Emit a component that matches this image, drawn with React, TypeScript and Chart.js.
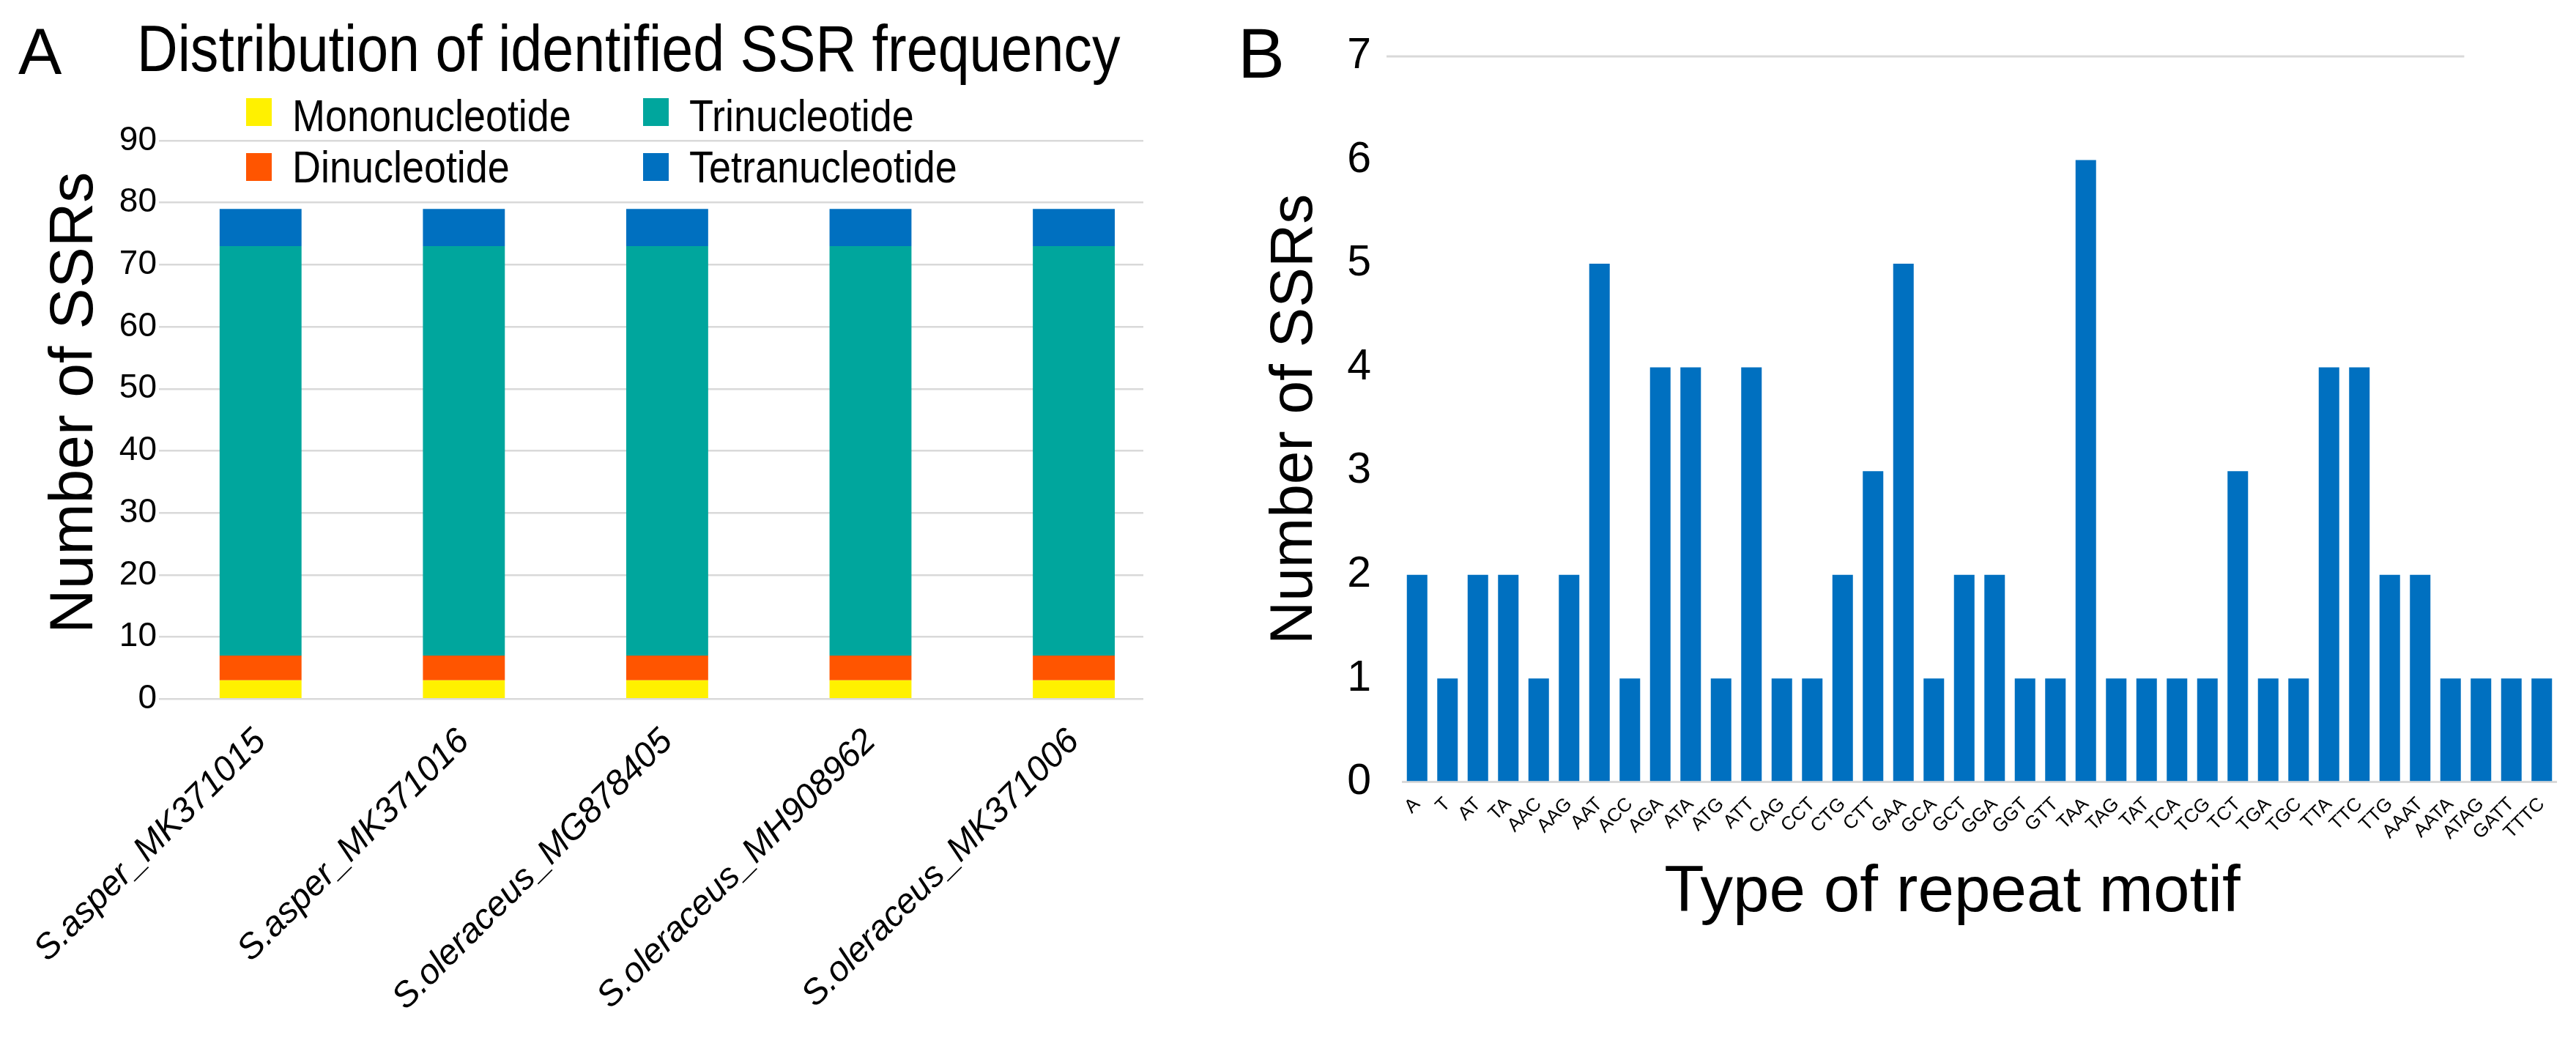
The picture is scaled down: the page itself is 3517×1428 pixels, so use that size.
import React, { useEffect, useRef } from 'react';
import { Chart, registerables } from 'chart.js';

Chart.register(...registerables);

const FONT = "'Liberation Sans', Arial, Helvetica, sans-serif";

// ---------- Panel A data ----------
const genomes = [
  'S.asper_MK371015',
  'S.asper_MK371016',
  'S.oleraceus_MG878405',
  'S.oleraceus_MH908962',
  'S.oleraceus_MK371006',
];
const mononucleotide = [3, 3, 3, 3, 3];
const dinucleotide = [4, 4, 4, 4, 4];
const trinucleotide = [66, 66, 66, 66, 66];
const tetranucleotide = [6, 6, 6, 6, 6];
const seriesNames = ['Mononucleotide', 'Dinucleotide', 'Trinucleotide', 'Tetranucleotide'];
const seriesColors = ['#FFF100', '#FF5500', '#00A69D', '#0070C0'];
const titleA = 'Distribution of identified SSR frequency';

// ---------- Panel B data ----------
const motifs = [
  'A', 'T', 'AT', 'TA', 'AAC', 'AAG', 'AAT', 'ACC', 'AGA', 'ATA', 'ATG', 'ATT',
  'CAG', 'CCT', 'CTG', 'CTT', 'GAA', 'GCA', 'GCT', 'GGA', 'GGT', 'GTT', 'TAA',
  'TAG', 'TAT', 'TCA', 'TCG', 'TCT', 'TGA', 'TGC', 'TTA', 'TTC', 'TTG', 'AAAT',
  'AATA', 'ATAG', 'GATT', 'TTTC',
];
const motifCounts = [
  2, 1, 2, 2, 1, 2, 5, 1, 4, 4, 1, 4,
  1, 1, 2, 3, 5, 1, 2, 2, 1, 1, 6,
  1, 1, 1, 1, 3, 1, 1, 4, 4, 2, 2,
  1, 1, 1, 1,
];
const motifColor = '#0070C0';

const GRID = '#D9D9D9';
const CLEAR = 'rgba(0,0,0,0)';

function drawCondensed(ctx: any, text: string, x: number, y: number, size: number, scaleX: number) {
  ctx.save();
  ctx.font = `${size}px ${FONT}`;
  ctx.fillStyle = '#000';
  ctx.textAlign = 'left';
  ctx.textBaseline = 'alphabetic';
  ctx.translate(x, y);
  ctx.scale(scaleX, 1);
  ctx.fillText(text, 0, 0);
  ctx.restore();
}

// Condensed panel title drawn above the plot, as in the original figure
const condensedTitle = {
  id: 'condensedTitle',
  afterDraw(chart: any, _args: any, opts: any) {
    if (!opts || !opts.display) return;
    drawCondensed(chart.ctx, opts.text, opts.x, opts.baseline, opts.size, opts.scaleX);
  },
};

// Legend laid out in a 2x2 grid (column-major), drawn over the plot like the original
const gridLegend = {
  id: 'gridLegend',
  afterDraw(chart: any, _args: any, opts: any) {
    if (!opts || !opts.display) return;
    const ctx = chart.ctx;
    chart.data.datasets.forEach((ds: any, i: number) => {
      const col = Math.floor(i / opts.boxTops.length);
      const row = i % opts.boxTops.length;
      const x = opts.columns[col];
      ctx.save();
      ctx.fillStyle = ds.backgroundColor;
      ctx.fillRect(x, opts.boxTops[row], opts.boxWidth, opts.boxHeight);
      ctx.restore();
      drawCondensed(ctx, ds.label, x + opts.textOffset, opts.baselines[row], opts.fontSize, opts.scaleX);
    });
  },
};

// The top reference line of panel B stops short of the last bars in the original
const partialGridLine = {
  id: 'partialGridLine',
  beforeDatasetsDraw(chart: any, _args: any, opts: any) {
    if (!opts || !opts.display) return;
    const { ctx, chartArea } = chart;
    const x = chart.scales.x;
    const y = chart.scales.y;
    const py = y.getPixelForValue(opts.value);
    ctx.save();
    ctx.strokeStyle = opts.color;
    ctx.lineWidth = opts.lineWidth;
    ctx.beginPath();
    ctx.moveTo(chartArea.left - opts.leftExtend, py);
    ctx.lineTo(x.getPixelForValue(opts.endAt), py);
    ctx.stroke();
    ctx.restore();
  },
};

export default function App() {
  const refA = useRef<HTMLCanvasElement>(null);
  const refB = useRef<HTMLCanvasElement>(null);

  useEffect(() => {
    const stacks = [mononucleotide, dinucleotide, trinucleotide, tetranucleotide];
    const chartA = new Chart(refA.current as HTMLCanvasElement, {
      type: 'bar',
      data: {
        datasets: stacks.map((vals, k) => ({
          label: seriesNames[k],
          data: vals.map((v, i) => ({ x: i, y: v })),
          backgroundColor: seriesColors[k],
          borderWidth: 0,
          categoryPercentage: 1,
          barPercentage: 0.403,
        })),
      },
      options: {
        responsive: false,
        animation: false,
        devicePixelRatio: 1,
        layout: { padding: { left: 46, right: 167, top: 192, bottom: 15 } },
        plugins: {
          legend: { display: false },
          tooltip: { enabled: false },
          title: { display: false },
          condensedTitle: {
            display: true,
            text: titleA,
            x: 187,
            baseline: 97,
            size: 89,
            scaleX: 0.867,
          },
          gridLegend: {
            display: true,
            columns: [336, 878],
            boxTops: [134, 209],
            baselines: [179, 249],
            boxWidth: 35,
            boxHeight: 38,
            textOffset: 63,
            fontSize: 62,
            scaleX: 0.87,
          },
        } as any,
        scales: {
          x: {
            type: 'linear',
            stacked: true,
            offset: false,
            min: -0.5,
            max: 4.342,
            grid: { display: false },
            border: { display: false },
            ticks: {
              includeBounds: false,
              stepSize: 1,
              autoSkip: false,
              minRotation: 45,
              maxRotation: 45,
              padding: 22,
              color: '#000',
              font: { family: FONT, size: 48, style: 'italic' },
              callback: (v: any) => genomes[v as number] ?? '',
            },
          },
          y: {
            stacked: true,
            min: 0,
            max: 90,
            border: { display: false },
            grid: { color: GRID, lineWidth: 2.5, drawTicks: false },
            ticks: {
              stepSize: 10,
              padding: 3,
              color: '#000',
              font: { family: FONT, size: 46 },
            },
            title: {
              display: true,
              text: '  Number of SSRs',
              color: '#000',
              font: { family: FONT, size: 84 },
              padding: { top: 6, bottom: 7 },
            },
          },
        } as any,
      },
      plugins: [condensedTitle as any, gridLegend as any],
    });

    const chartB = new Chart(refB.current as HTMLCanvasElement, {
      type: 'bar',
      data: {
        labels: motifs,
        datasets: [
          {
            label: 'Number of SSRs',
            data: motifCounts,
            backgroundColor: motifColor,
            borderWidth: 0,
            categoryPercentage: 1,
            barPercentage: 0.675,
          },
        ],
      },
      options: {
        responsive: false,
        animation: false,
        devicePixelRatio: 1,
        layout: { padding: { left: 34.8, right: 26, top: 77, bottom: 0 } },
        plugins: {
          legend: { display: false },
          tooltip: { enabled: false },
          partialGridLine: {
            display: true,
            value: 7,
            endAt: 34.45,
            leftExtend: 21,
            color: GRID,
            lineWidth: 3,
          },
        } as any,
        scales: {
          x: {
            grid: { display: false },
            border: { display: false },
            ticks: {
              autoSkip: false,
              minRotation: 45,
              maxRotation: 45,
              padding: 7,
              color: '#000',
              font: { family: FONT, size: 26 },
            },
            title: {
              display: true,
              text: 'Type of repeat motif   ',
              color: '#000',
              font: { family: FONT, size: 89 },
              padding: { top: 6.7, bottom: 155 },
            },
          },
          y: {
            min: 0,
            max: 7,
            border: { display: false },
            grid: {
              color: (c: any) => (c.tick && c.tick.value === 0 ? GRID : CLEAR),
              tickColor: CLEAR,
              lineWidth: 3,
              drawTicks: true,
              tickLength: 20,
            },
            ticks: {
              stepSize: 1,
              padding: 22,
              color: '#000',
              font: { family: FONT, size: 59 },
            },
            title: {
              display: true,
              text: 'Number of SSRs',
              color: '#000',
              font: { family: FONT, size: 82 },
              padding: { top: 4, bottom: 0 },
            },
          },
        } as any,
      },
      plugins: [partialGridLine as any],
    });

    return () => {
      chartA.destroy();
      chartB.destroy();
    };
  }, []);

  return (
    <div
      style={{
        position: 'absolute',
        left: 0,
        top: 0,
        width: 3517,
        height: 1428,
        overflow: 'hidden',
        background: '#fff',
        fontFamily: FONT,
        color: '#000',
      }}
    >
      <canvas
        ref={refA}
        width={1728}
        height={1428}
        style={{ position: 'absolute', left: 0, top: 0, width: 1728, height: 1428 }}
      />
      <canvas
        ref={refB}
        width={1837}
        height={1428}
        style={{ position: 'absolute', left: 1680, top: 0, width: 1837, height: 1428 }}
      />
      <div style={{ position: 'absolute', left: 25, top: 26, fontSize: 89, lineHeight: 1 }}>A</div>
      <div style={{ position: 'absolute', left: 1690, top: 25, fontSize: 96, lineHeight: 1 }}>B</div>
    </div>
  );
}
